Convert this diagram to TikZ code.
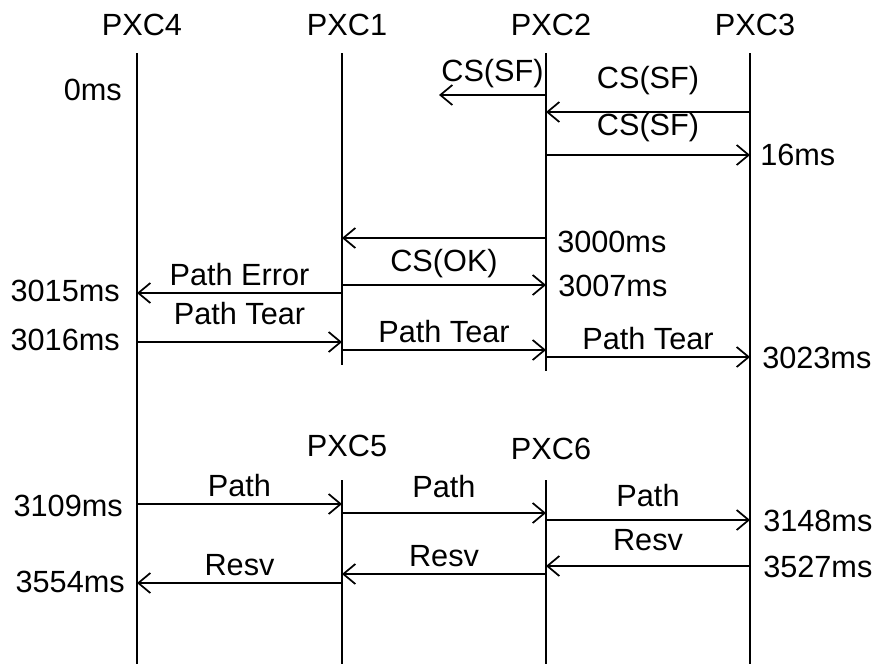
\documentclass[tikz,border=0pt]{standalone}
\usepackage{fontspec}
\setmainfont{Liberation Sans}
\usetikzlibrary{arrows.meta}
\begin{document}
\begin{tikzpicture}[x=0.75pt,y=-0.75pt,
  life/.style={line width=1.4pt},
  msg/.style={line width=1.3pt,-{Straight Barb[length=9pt,width=15pt,line width=1.3pt]}},
  lbl/.style={font=\fontsize{23}{27}\selectfont,inner sep=0pt},
  tag/.style={lbl,above=5pt,midway}]
\useasboundingbox (0,0) rectangle (873,664);
% lifeline tops
\coordinate (l4) at (137,53);
\coordinate (l1) at (342,53);
\coordinate (l2) at (546,53);
\coordinate (l3) at (750,53);
\coordinate (l5) at (342,480);
\coordinate (l6) at (546,480);
\coordinate (bot) at (0,664);
\coordinate (end1) at (0,365);
\coordinate (end2) at (0,371);
% names
\node[lbl] (p4) at (142,25) {PXC4};
\node[lbl] (p1) at (347,25) {PXC1};
\node[lbl] (p2) at (551,25) {PXC2};
\node[lbl] (p3) at (755,25) {PXC3};
\node[lbl] (p5) at (347,446) {PXC5};
\node[lbl] (p6) at (551,449) {PXC6};
% lifelines
\draw[life] (l4) -- (l4 |- bot);
\draw[life] (l1) -- (l1 |- end1);
\draw[life] (l2) -- (l2 |- end2);
\draw[life] (l3) -- (l3 |- bot);
\draw[life] (l5) -- (l5 |- bot);
\draw[life] (l6) -- (l6 |- bot);
% rows
\coordinate (ra) at (439,95);
\coordinate (rb) at (0,112);
\coordinate (rc) at (0,155);
\coordinate (rd) at (0,238);
\coordinate (re) at (0,285);
\coordinate (rf) at (0,293);
\coordinate (rg) at (0,342);
\coordinate (rh) at (0,350);
\coordinate (ri) at (0,357);
\coordinate (rj) at (0,504);
\coordinate (rk) at (0,513);
\coordinate (rl) at (0,520);
\coordinate (rm) at (0,566);
\coordinate (rn) at (0,574);
\coordinate (ro) at (0,583);
% CS(SF)
\draw[msg] (l2 |- ra) -- (ra) node[tag] {CS(SF)};
\draw[msg] (l3 |- rb) -- (l2 |- rb) node[tag,above=7pt] {CS(SF)};
\draw[msg] (l2 |- rc) -- (l3 |- rc) node[tag,above=4pt] {CS(SF)};
% CS(OK) and path error
\draw[msg] (l2 |- rd) -- (l1 |- rd);
\draw[msg] (l1 |- re) -- (l2 |- re) node[tag] {CS(OK)};
\draw[msg] (l1 |- rf) -- (l4 |- rf) node[tag] {Path Error};
% Path Tear
\draw[msg] (l4 |- rg) -- (l1 |- rg) node[tag,above=7pt] {Path Tear};
\draw[msg] (l1 |- rh) -- (l2 |- rh) node[tag] {Path Tear};
\draw[msg] (l2 |- ri) -- (l3 |- ri) node[tag] {Path Tear};
% Path
\draw[msg] (l4 |- rj) -- (l5 |- rj) node[tag] {Path};
\draw[msg] (l5 |- rk) -- (l6 |- rk) node[tag,above=6pt] {Path};
\draw[msg] (l6 |- rl) -- (l3 |- rl) node[tag,above=4pt] {Path};
% Resv
\draw[msg] (l3 |- rm) -- (l6 |- rm) node[tag,above=6pt] {Resv};
\draw[msg] (l6 |- rn) -- (l5 |- rn) node[tag] {Resv};
\draw[msg] (l5 |- ro) -- (l4 |- ro) node[tag] {Resv};
% times
\node[lbl,anchor=east] (t0) at (122,90) {0ms};
\node[lbl,anchor=west] (t16) at (760,155) {16ms};
\node[lbl,anchor=west] (t3000) at (557,242) {3000ms};
\node[lbl,anchor=west] (t3007) at (558,286) {3007ms};
\node[lbl,anchor=east] (t3015) at (120,291) {3015ms};
\node[lbl,anchor=east] (t3016) at (120,340) {3016ms};
\node[lbl,anchor=west] (t3023) at (762,358) {3023ms};
\node[lbl,anchor=east] (t3109) at (123,506) {3109ms};
\node[lbl,anchor=west] (t3148) at (763,521) {3148ms};
\node[lbl,anchor=west] (t3527) at (763,567) {3527ms};
\node[lbl,anchor=east] (t3554) at (125,582) {3554ms};
\end{tikzpicture}
\end{document}
